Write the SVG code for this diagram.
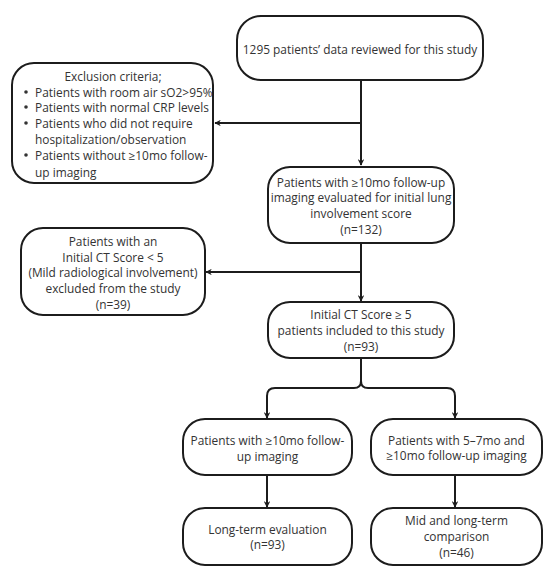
<svg xmlns="http://www.w3.org/2000/svg" width="550" height="574" viewBox="0 0 550 574">
<style>
.box{fill:#fff;stroke:#1c1c1c;stroke-width:2}
.t{font-family:"Open Sans","Noto Sans",sans-serif;font-size:11.9px;fill:#333;text-anchor:middle;dominant-baseline:central}
.l{text-anchor:start}
.c{fill:none;stroke:#1c1c1c;stroke-width:2}
</style>
<defs>
<marker id="ah" viewBox="0 0 10 10" refX="9" refY="5" markerWidth="3.2" markerHeight="3.2" orient="auto" markerUnits="strokeWidth">
<path d="M0,0 L10,5 L0,10 L3,5 Z" fill="#1c1c1c"/>
</marker>
</defs>
<rect width="550" height="574" fill="#fff"/>
<g id="connectors">
<path class="c" d="M361,80 V165" marker-end="url(#ah)"/>
<path class="c" d="M361,123 H215" marker-end="url(#ah)"/>
<path class="c" d="M361,243 V301" marker-end="url(#ah)"/>
<path class="c" d="M361,272 H206" marker-end="url(#ah)"/>
<path class="c" d="M361,358 V381 Q361,388 354,388 H275 Q267,388 267,396 V418" marker-end="url(#ah)"/>
<path class="c" d="M361,381 Q361,388 368,388 H447 Q455,388 455,396 V418" marker-end="url(#ah)"/>
<path class="c" d="M267,475 V507" marker-end="url(#ah)"/>
<path class="c" d="M455,475 V507" marker-end="url(#ah)"/>
</g>
<g id="n1">
<rect class="box" x="237" y="16" width="246" height="64" rx="24"/>
<text class="t" x="360" y="49">1295 patients’ data reviewed for this study</text>
</g>
<g id="n-exclusion">
<rect class="box" x="12" y="63" width="201" height="120" rx="22"/>
<text class="t" x="113" y="76">Exclusion criteria;</text>
<circle cx="26" cy="92" r="1.8" fill="#333"/>
<circle cx="26" cy="107" r="1.8" fill="#333"/>
<circle cx="26" cy="123" r="1.8" fill="#333"/>
<circle cx="26" cy="155" r="1.8" fill="#333"/>
<text class="t l" x="35" y="92">Patients with room air sO2&gt;95%</text>
<text class="t l" x="35" y="107">Patients with normal CRP levels</text>
<text class="t l" x="35" y="123">Patients who did not require</text>
<text class="t l" x="35" y="139">hospitalization/observation</text>
<text class="t l" x="35" y="155">Patients without ≥10mo follow-</text>
<text class="t l" x="35" y="172">up imaging</text>
</g>
<g id="n2">
<rect class="box" x="268" y="167" width="186" height="76" rx="22"/>
<text class="t" x="361" y="182">Patients with ≥10mo follow-up</text>
<text class="t" x="361" y="197">imaging evaluated for initial lung</text>
<text class="t" x="361" y="213">involvement score</text>
<text class="t" x="361" y="229">(n=132)</text>
</g>
<g id="n3">
<rect class="box" x="21" y="228" width="184" height="87" rx="22"/>
<text class="t" x="113" y="241">Patients with an</text>
<text class="t" x="113" y="257">Initial CT Score &lt; 5</text>
<text class="t" x="113" y="272">(Mild radiological involvement)</text>
<text class="t" x="113" y="288">excluded from the study</text>
<text class="t" x="113" y="304">(n=39)</text>
</g>
<g id="n4">
<rect class="box" x="268" y="302" width="186" height="56" rx="22"/>
<text class="t" x="361" y="314">Initial CT Score ≥ 5</text>
<text class="t" x="361" y="330">patients included to this study</text>
<text class="t" x="361" y="346">(n=93)</text>
</g>
<g id="n5">
<rect class="box" x="183" y="419" width="169" height="56" rx="22"/>
<text class="t" x="267.5" y="440">Patients with ≥10mo follow-</text>
<text class="t" x="267.5" y="456">up imaging</text>
</g>
<g id="n6">
<rect class="box" x="371" y="419" width="171" height="56" rx="22"/>
<text class="t" x="456.5" y="440">Patients with 5–7mo and</text>
<text class="t" x="456.5" y="455">≥10mo follow-up imaging</text>
</g>
<g id="n7">
<rect class="box" x="183" y="508" width="169" height="57" rx="22"/>
<text class="t" x="267.5" y="529">Long-term evaluation</text>
<text class="t" x="267.5" y="544">(n=93)</text>
</g>
<g id="n8">
<rect class="box" x="371" y="508" width="171" height="57" rx="22"/>
<text class="t" x="456.5" y="520">Mid and long-term</text>
<text class="t" x="456.5" y="536">comparison</text>
<text class="t" x="456.5" y="552">(n=46)</text>
</g>
</svg>
